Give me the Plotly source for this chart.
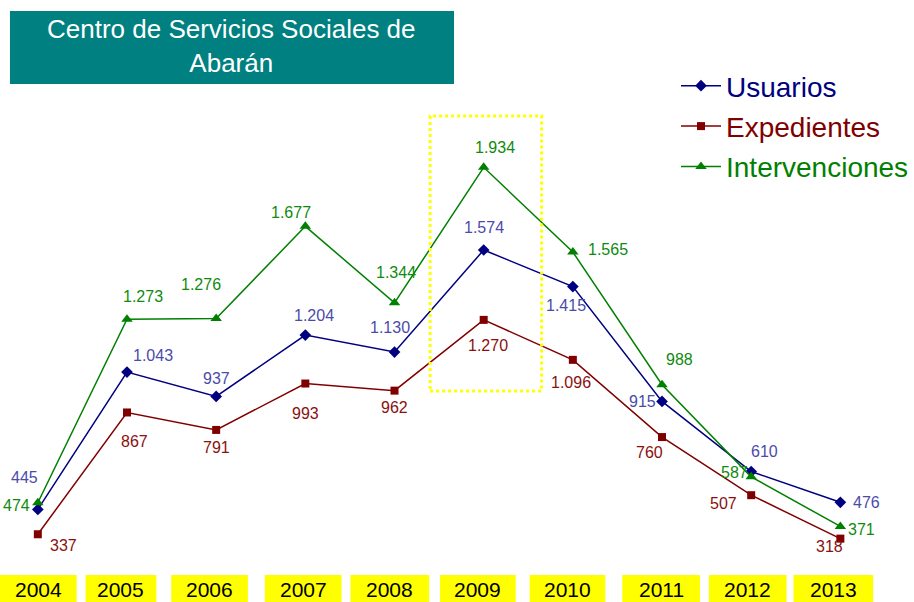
import plotly.graph_objects as go

# ---- data ----
years = [2004, 2005, 2006, 2007, 2008, 2009, 2010, 2011, 2012, 2013]
year_labels = ["2004", "2005", "2006", "2007", "2008", "2009", "2010", "2011", "2012", "2013"]
usuarios = [445, 1043, 937, 1204, 1130, 1574, 1415, 915, 610, 476]
expedientes = [337, 867, 791, 993, 962, 1270, 1096, 760, 507, 318]
intervenciones = [474, 1273, 1276, 1677, 1344, 1934, 1565, 988, 587, 371]
title_text = "Centro de Servicios Sociales de<br>Abarán"

# ---- layout helpers (pixel offsets of value labels, dx, dy with dy down) ----
off_usu = [(-13, -32), (26, -17), (0, -18), (9, -20), (-5, -25), (0, -23), (-7, 19), (-20, 0), (13, -20), (26, 0)]
off_exp = [(26, 11), (7, 29), (0, 18), (0, 30), (0, 17), (4, 26), (-2, 23), (-13, 15), (-28, 8), (-11, 8)]
off_int = [(-21, 3), (16, -23), (-15, -34), (-14, -14), (1, -30), (11, -20), (35, -3), (17, -25), (-17, -4), (21, 3)]
# yellow year boxes: left/right pixel edges
year_boxes = [(0, 77), (86, 157), (172, 249), (266, 343), (352, 431), (442, 518), (532, 608), (625, 703), (712, 790), (797, 877)]

W, H = 914, 602
FONT = "Liberation Sans, Arial, sans-serif"


def fmt(v):
    return f"{v:,}".replace(",", ".")


series = [
    ("Usuarios", usuarios, "#000080", "#4B4BAA", "diamond", 9, off_usu),
    ("Expedientes", expedientes, "#800000", "#8B1010", "square", 8, off_exp),
    ("Intervenciones", intervenciones, "#008000", "#108A10", "triangle-up", 10, off_int),
]

fig = go.Figure()
annotations = []
for i, (name, vals, col, lcol, sym, msize, offs) in enumerate(series):
    fig.add_trace(go.Scatter(
        x=years, y=vals, mode="lines+markers",
        name=f"<span style='color:{col}'>{name}</span>",
        legendgroup=name,
        line=dict(color=col, width=1.5),
        marker=dict(symbol=sym, size=msize, color=col),
        hoverinfo="skip",
    ))
    for x, v, (dx, dy) in zip(years, vals, offs):
        annotations.append(dict(
            x=x, y=v, xref="x", yref="y", text=fmt(v), showarrow=False,
            xanchor="center", yanchor="middle",
            xshift=dx, yshift=-dy, font=dict(family=FONT, size=16, color=lcol),
        ))

shapes = []
# title box
shapes.append(dict(type="rect", xref="paper", yref="paper",
                   x0=10 / W, x1=456 / W, y0=1 - 84 / H, y1=1 - 11 / H,
                   fillcolor="#008080", line=dict(width=0), layer="below"))
annotations.append(dict(x=233 / W, y=1 - 46 / H, xref="paper", yref="paper",
                        xanchor="center", yanchor="middle",
                        text=title_text, showarrow=False, align="center",
                        font=dict(family=FONT, size=26, color="white")))
# dotted highlight box
shapes.append(dict(type="rect", xref="paper", yref="paper",
                   x0=432 / W, x1=544 / W, y0=1 - 391 / H, y1=1 - 116 / H,
                   line=dict(color="#FFFF00", width=3, dash="dot")))
# year boxes and labels
for lab, (l, r) in zip(year_labels, year_boxes):
    shapes.append(dict(type="rect", xref="paper", yref="paper",
                       x0=l / W, x1=r / W, y0=-0.05, y1=1 - 575 / H,
                       fillcolor="#FFFF00", line=dict(width=0), layer="below"))
    annotations.append(dict(x=(l + r) / 2 / W, y=1 - 589 / H, xref="paper", yref="paper",
                            text=lab, showarrow=False, xanchor="center", yanchor="middle",
                            font=dict(family=FONT, size=21, color="black")))

fig.update_layout(
    width=W, height=H,
    margin=dict(l=0, r=0, t=0, b=0),
    paper_bgcolor="white", plot_bgcolor="white",
    xaxis=dict(range=[2003.5757, 2013.781], visible=False, fixedrange=True),
    yaxis=dict(range=[42.2, 2662], visible=False, fixedrange=True),
    showlegend=True,
    legend=dict(x=679 / W, y=1 - 61 / H, xanchor="left", yanchor="top",
                font=dict(family=FONT, size=28), bgcolor="rgba(0,0,0,0)",
                tracegroupgap=1, itemwidth=40),
    shapes=shapes,
    annotations=annotations,
)

fig.write_html("out.html", config={"displayModeBar": False},
               post_script="document.body.style.margin='0';")
